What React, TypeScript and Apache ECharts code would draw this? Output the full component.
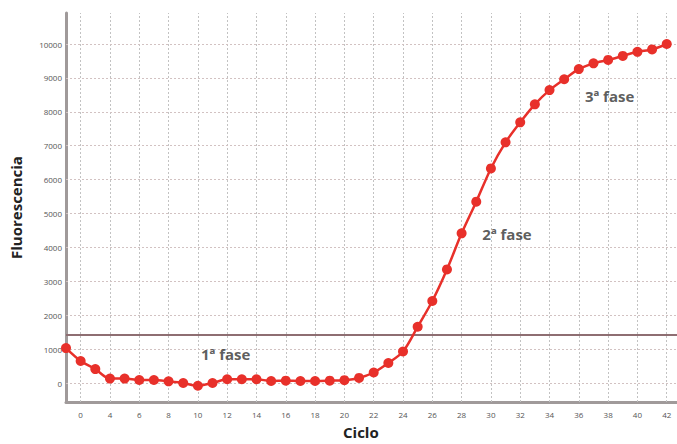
import React, { useEffect, useRef } from "react";
import * as echarts from "echarts";

const cycles = [1,2,3,4,5,6,7,8,9,10,11,12,13,14,15,16,17,18,19,20,21,22,23,24,25,26,27,28,29,30,31,32,33,34,35,36,37,38,39,40,41,42];
const fluorescence = [1030,650,410,130,130,90,90,50,0,-80,0,110,110,110,60,70,60,60,70,85,150,310,590,930,1660,2420,3350,4415,5350,6330,7100,7690,8220,8640,8960,9260,9430,9530,9650,9770,9840,10000];
const xTickValues = [2,4,6,8,10,12,14,16,18,20,22,24,26,28,30,32,34,36,38,40,42];
const xTickLabels = ["0","4","6","8","10","12","14","16","18","20","22","24","26","28","30","32","34","36","38","40","42"];
const yTickValues = [0,1000,2000,3000,4000,5000,6000,7000,8000,9000,10000];
const threshold = 1416;
const phaseNames = ["1ª fase", "2ª fase", "3ª fase"];
const phaseX = [11.9, 31.1, 38.1];
const phaseY = [855, 4395, 8466];

export default function App() {
  const ref = useRef<HTMLDivElement>(null);
  useEffect(() => {
    document.body.style.margin = "0";
    const chart = echarts.init(ref.current!, null, { renderer: "svg" });
    chart.setOption({
      animation: false,
      backgroundColor: "#ffffff",
      grid: { left: 63, right: 0, top: 13, bottom: 42 },
      xAxis: {
        type: "value",
        min: 1,
        max: 42.7,
        axisLine: { onZero: false, lineStyle: { color: "#a09a9a", width: 3 } },
        axisTick: { show: false },
        axisLabel: {
          customValues: xTickValues,
          formatter: (v: number) => xTickLabels[xTickValues.indexOf(v)] ?? "",
          fontSize: 8,
          color: "#555",
          margin: 8,
          fontFamily: "Open Sans",
        },
        splitLine: { show: false },
      },
      yAxis: {
        type: "value",
        min: -560,
        max: 10915,
        name: "Fluorescencia",
        nameLocation: "middle",
        nameGap: 43,
        nameTextStyle: { fontSize: 15, fontWeight: "bold", color: "#222", fontFamily: "Open Sans" },
        axisLine: { show: true, onZero: false, lineStyle: { color: "#a09a9a", width: 3 } },
        axisTick: { show: false },
        axisLabel: {
          customValues: yTickValues,
          formatter: (v: number) => String(v),
          fontSize: 8,
          color: "#555",
          margin: 4,
          fontFamily: "Open Sans",
        },
        splitLine: { show: false },
      },
      graphic: [
        {
          type: "text",
          left: 343,
          top: 424,
          style: { text: "Ciclo", fontSize: 15, fontWeight: "bold", fill: "#222", fontFamily: "Open Sans" },
        },
      ],
      series: [
        {
          type: "line",
          data: [],
          silent: true,
          z: 1,
          markLine: {
            silent: true,
            z: 1,
            symbol: "none",
            label: { show: false },
            data: [
              ...xTickValues.map((v) => ({ xAxis: v, lineStyle: { color: "#c2c2c2", type: [2, 2], width: 1 } })),
              ...yTickValues.map((v) => ({ yAxis: v, lineStyle: { color: "#d2c2c2", type: [2, 2], width: 1 } })),
            ],
          },
        },
        {
          type: "line",
          data: cycles.map((c, i) => [c, fluorescence[i]]),
          smooth: 0.3,
          symbol: "circle",
          symbolSize: 10,
          itemStyle: { color: "#e8302a" },
          lineStyle: { color: "#e8302a", width: 2.5 },
          markLine: {
            silent: true,
            z: 2,
            symbol: "none",
            label: { show: false },
            lineStyle: { color: "#8e6e72", width: 2, type: "solid" },
            data: [{ yAxis: threshold }],
          },
          z: 3,
        },
        {
          type: "scatter",
          symbolSize: 0,
          data: phaseNames.map((n, i) => ({ value: [phaseX[i], phaseY[i]], name: n })),
          label: {
            show: true,
            position: "inside",
            formatter: (p: any) => p.name,
            fontSize: 15,
            fontWeight: "bold",
            color: "#333",
            fontFamily: "Open Sans",
          },
          z: 4,
        },
      ],
    });
    return () => chart.dispose();
  }, []);
  return <div ref={ref} style={{ width: 677, height: 444 }} />;
}
